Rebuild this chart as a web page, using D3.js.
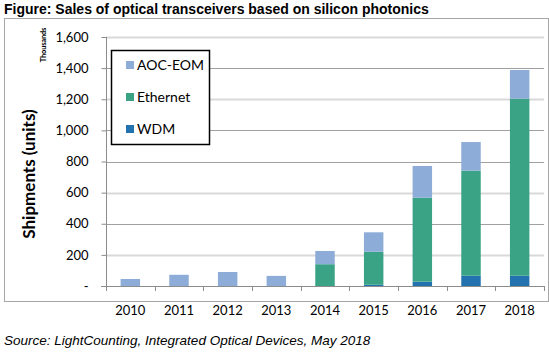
<!DOCTYPE html>
<html>
<head>
<meta charset="utf-8">
<script src="https://cdn.jsdelivr.net/npm/d3@7"></script>
<style>
  body { margin: 0; background: #fff; }
  svg text { font-family: Lato, "Open Sans", sans-serif; fill: #000; }
</style>
</head>
<body>
<div class="mydiv"></div>
<script>
var width = 549;
var height = 353;

// data (thousands of units)
var years = ["2010", "2011", "2012", "2013", "2014", "2015", "2016", "2017", "2018"];
var wdm = [0, 0, 0, 0, 0, 8, 28, 66, 66];
var ethernet = [0, 0, 0, 0, 140, 212, 539, 675, 1138];
var aocEom = [45, 72, 90, 65, 85, 125, 204, 184, 184];
var seriesNames = ["WDM", "Ethernet", "AOC-EOM"];
var legendOrder = ["AOC-EOM", "Ethernet", "WDM"];
var yTicks = [0, 200, 400, 600, 800, 1000, 1200, 1400, 1600];

var colors = { "WDM": "#2372b0", "Ethernet": "#3aa386", "AOC-EOM": "#8dacd7" };

var rows = years.map(function(y, i) {
  return { year: y, "WDM": wdm[i], "Ethernet": ethernet[i], "AOC-EOM": aocEom[i] };
});

var svg = d3.select(".mydiv").append("svg")
    .attr("width", width)
    .attr("height", height);

// outer frame
svg.append("rect")
    .attr("x", 4.5).attr("y", 18.5)
    .attr("width", 544).attr("height", 283)
    .attr("fill", "none").attr("stroke", "#a6a6a6");

svg.append("text")
    .attr("x", 4).attr("y", 14)
    .style("font-family", "Arial, 'Liberation Sans', sans-serif")
    .style("font-weight", "bold")
    .style("font-size", "14px")
    .text("Figure: Sales of optical transceivers based on silicon photonics");

svg.append("text")
    .attr("x", 4).attr("y", 345)
    .style("font-family", "Arial, 'Liberation Sans', sans-serif")
    .style("font-style", "italic")
    .style("font-size", "13.5px")
    .text("Source: LightCounting, Integrated Optical Devices, May 2018");

var plotLeft = 106, plotRight = 544, plotTop = 37, plotBottom = 286;

var x = d3.scaleBand().domain(years).range([plotLeft, plotRight]).paddingInner(0.6).paddingOuter(0.3);
var xb = d3.scaleBand().domain(years).range([plotLeft, plotRight]);
var y = d3.scaleLinear().domain([0, 1600]).range([plotBottom, plotTop]);

var lightGrid = [200, 600, 1200, 1600];

// gridlines
svg.append("g").selectAll("line")
    .data(yTicks.filter(function(d) { return d > 0; }))
    .join("line")
    .attr("x1", plotLeft).attr("x2", plotRight)
    .attr("y1", function(d) { return Math.round(y(d)) + 0.5; })
    .attr("y2", function(d) { return Math.round(y(d)) + 0.5; })
    .attr("stroke", function(d) { return lightGrid.indexOf(d) >= 0 ? "#d9d9d9" : "#a0a0a0"; })
    .attr("stroke-width", function(d) { return lightGrid.indexOf(d) >= 0 ? 2 : 1; });

// stacked bars
var stack = d3.stack().keys(seriesNames)(rows);
svg.append("g").selectAll("g")
    .data(stack)
    .join("g")
    .attr("fill", function(d) { return colors[d.key]; })
  .selectAll("rect")
    .data(function(d) { return d; })
    .join("rect")
    .attr("x", function(d) { return x(d.data.year); })
    .attr("width", x.bandwidth())
    .attr("y", function(d) { return y(d[1]); })
    .attr("height", function(d) { return y(d[0]) - y(d[1]); });

// y axis
var yAxis = d3.axisLeft(y)
    .tickValues(yTicks)
    .tickSize(5)
    .tickPadding(13)
    .tickFormat(function(d) { return d === 0 ? "-" : d3.format(",")(d); });
var gy = svg.append("g").attr("transform", "translate(" + (plotLeft + 0.5) + ",0)").call(yAxis);
gy.select(".domain").attr("stroke", "#8c8c8c").attr("d", "M0," + plotTop + "V" + (plotBottom + 5));
gy.selectAll(".tick line").attr("stroke", "#8c8c8c");
gy.selectAll(".tick text").style("font-size", "13px").style("font-family", "Lato, sans-serif");

// x axis baseline and ticks
var gx = svg.append("g");
gx.append("line")
    .attr("x1", plotLeft - 5).attr("x2", plotRight)
    .attr("y1", plotBottom + 0.5).attr("y2", plotBottom + 0.5)
    .attr("stroke", "#8c8c8c");
gx.selectAll(".xt")
    .data(years)
    .join("line")
    .attr("class", "xt")
    .attr("x1", function(d) { return Math.round(xb(d) + xb.bandwidth()) + 0.5; })
    .attr("x2", function(d) { return Math.round(xb(d) + xb.bandwidth()) + 0.5; })
    .attr("y1", plotBottom).attr("y2", plotBottom + 5)
    .attr("stroke", "#8c8c8c");
gx.selectAll("text")
    .data(years)
    .join("text")
    .attr("x", function(d) { return xb(d) + xb.bandwidth() / 2; })
    .attr("y", 315)
    .attr("text-anchor", "middle")
    .style("font-size", "13px")
    .text(function(d) { return d; });

// axis titles
svg.append("text")
    .attr("transform", "translate(35,174) rotate(-90)")
    .attr("text-anchor", "middle")
    .style("font-weight", "bold")
    .style("font-size", "17px")
    .text("Shipments (units)");
svg.append("text")
    .attr("transform", "translate(46,45) rotate(-90)")
    .attr("text-anchor", "middle")
    .style("font-weight", "bold")
    .style("font-size", "7.5px")
    .style("letter-spacing", "-0.2px")
    .text("Thousands");

// legend
var lg = svg.append("g");
lg.append("rect")
    .attr("x", 111.5).attr("y", 50.5)
    .attr("width", 98).attr("height", 94)
    .attr("fill", "#fff").attr("stroke", "#000").attr("stroke-width", 1.5);
var li = lg.selectAll(".li")
    .data(legendOrder)
    .join("g")
    .attr("class", "li")
    .attr("transform", function(d, i) { return "translate(126," + (65 + i * 32) + ")"; });
li.append("rect")
    .attr("x", 0).attr("y", -4)
    .attr("width", 8).attr("height", 8)
    .attr("fill", function(d) { return colors[d]; });
li.append("text")
    .attr("x", 11).attr("y", 5)
    .style("font-size", "14px")
    .text(function(d) { return d; });
</script>
</body>
</html>
